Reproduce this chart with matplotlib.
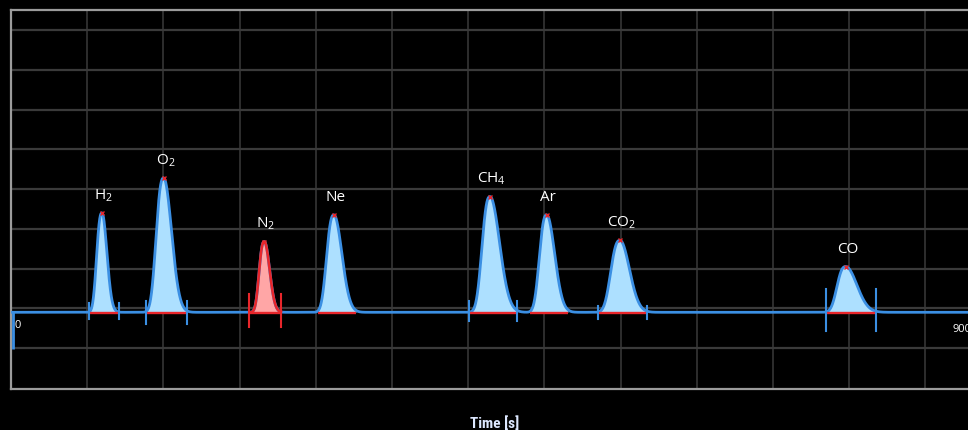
import numpy as np
import matplotlib
matplotlib.use("Agg")
import matplotlib.pyplot as plt

# ---------------- data ----------------
peak_names = [r"H$_2$", r"O$_2$", r"N$_2$", "Ne", r"CH$_4$", "Ar", r"CO$_2$", "CO"]
peak_times = [85.9, 145.1, 241.7, 308.5, 458.3, 512.7, 583.0, 799.6]      # s
peak_heights = [2.50, 3.38, 1.78, 2.45, 2.91, 2.45, 1.81, 1.15]          # signal units
half_width_left = [5.6, 7.9, 5.5, 7.7, 8.4, 7.7, 9.6, 9.0]               # s (HWHM, leading side)
half_width_right = [5.5, 8.8, 5.9, 8.9, 10.7, 8.9, 10.6, 12.5]           # s (HWHM, tailing side)
int_start = [73.1, 127.8, 227.3, 293.2, 438.1, 496.6, 562.2, 780.4]      # s
int_end = [102.2, 167.2, 257.7, 329.7, 484.2, 533.1, 608.6, 828.7]       # s
has_ticks = [True, True, True, False, True, False, True, True]
highlight = [False, False, True, False, False, False, False, False]
tick_up = [0.24, 0.29, 0.46, 0.0, 0.29, 0.0, 0.17, 0.59]
tick_down = [0.18, 0.29, 0.37, 0.0, 0.21, 0.0, 0.17, 0.46]
initial_dip = -0.93
x_tick_labels = ["0", "900"]
x_tick_values = [0, 900]
x_label = "Time [s]"

# ---------------- styles ----------------
BLUE = "#3b8fe3"
FILL_BLUE = "#ade0ff"
RED = "#e8262b"
FILL_RED = "#ffa6a6"
GRID = "#3a3a3a"
FRAME = "#9c9c9c"
P_LEAD, P_TAIL = 2.6, 2.0

plt.rcParams["mathtext.fontset"] = "custom"
plt.rcParams["mathtext.rm"] = "Open Sans"
plt.rcParams["mathtext.it"] = "Open Sans:italic"
plt.rcParams["mathtext.bf"] = "Open Sans:bold"


def peak_shape(t, t0, h, wl, wr):
    d = t - t0
    left = np.exp(-np.log(2) * np.abs(d / wl) ** P_LEAD)
    right = np.exp(-np.log(2) * np.abs(d / wr) ** P_TAIL)
    return h * np.where(d < 0, left, right)


t = np.linspace(0, 935, 8000)
signal = np.zeros_like(t)
for t0, h, wl, wr in zip(peak_times, peak_heights, half_width_left, half_width_right):
    signal += peak_shape(t, t0, h, wl, wr)

W, H = 968, 431
fig = plt.figure(figsize=(W / 100, H / 100), dpi=100, facecolor="black")
ax_left, ax_bottom, ax_top = 11, 41, 420
ax_w_frac = (W - ax_left) / W + 0.01
ax = fig.add_axes([ax_left / W, ax_bottom / H, ax_w_frac, (ax_top - ax_bottom) / H])
ax.set_facecolor("black")

px_per_s = 1.042
x0_px = 12.5
xmin = (ax_left - x0_px) / px_per_s
ax.set_xlim(xmin, xmin + ax_w_frac * W / px_per_s)
ax.set_ylim(-1.93, 7.605)

# grid
grid_dx = 76.2 / px_per_s
for k in range(1, 14):
    ax.axvline(xmin + k * grid_dx, color=GRID, lw=1.1, zorder=0)
for k in range(-1, 8):
    ax.axhline(0.1 + k, color=GRID, lw=1.6, zorder=0)

for side in ["right", "left", "top", "bottom"]:
    ax.spines[side].set_color(FRAME)
    ax.spines[side].set_linewidth(1.6)
ax.spines["right"].set_visible(False)
ax.set_xticks([])
ax.set_yticks([])

# fills
for i in range(len(peak_times)):
    m = (t >= int_start[i]) & (t <= int_end[i])
    ax.fill_between(t[m], 0, signal[m], color=FILL_RED if highlight[i] else FILL_BLUE,
                    lw=0, zorder=2)

# trace
ax.plot([0, 0], [initial_dip, 0], color=BLUE, lw=2.0, zorder=3, solid_capstyle="butt")
ax.plot(t, signal, color=BLUE, lw=2.0, zorder=3)
for i in range(len(peak_times)):
    if highlight[i]:
        m = (t >= int_start[i]) & (t <= int_end[i])
        ax.plot(t[m], signal[m], color=RED, lw=1.9, zorder=4)

# baselines, ticks, apex markers, labels
for i in range(len(peak_times)):
    ax.plot([int_start[i], int_end[i]], [-0.03, -0.03], color=RED, lw=1.7, zorder=5,
            solid_capstyle="butt")
    if has_ticks[i]:
        c = RED if highlight[i] else BLUE
        for xt in (int_start[i], int_end[i]):
            ax.plot([xt, xt], [-tick_down[i], tick_up[i]], color=c, lw=1.5, zorder=5)
    ax.plot(peak_times[i], peak_heights[i], marker="x", ms=3.5, mew=1.0,
            color=RED, zorder=6)
    ax.annotate(peak_names[i], (peak_times[i], peak_heights[i]),
                xytext=(1.2, 10.5), textcoords="offset points",
                ha="center", va="baseline", color="white", fontsize=11,
                family=["Open Sans", "DejaVu Sans"], zorder=7)

# x tick labels as text
ax.text(x_tick_values[0] + 2, -0.31, x_tick_labels[0], color="white", fontsize=8,
        ha="left", va="center", family=["Open Sans", "DejaVu Sans"])
ax.text(x_tick_values[1] + 2, -0.41, x_tick_labels[1], color="white", fontsize=8,
        ha="left", va="center", family=["Open Sans", "DejaVu Sans"])

fig.text(495 / W, (H - 416.5) / H, x_label, color="#dde8ff", fontsize=11,
         fontweight="bold", fontstretch="condensed", ha="center", va="top",
         family=["Roboto Condensed", "Liberation Sans Narrow", "DejaVu Sans"])

fig.savefig("out.png", dpi=100, facecolor="black")
